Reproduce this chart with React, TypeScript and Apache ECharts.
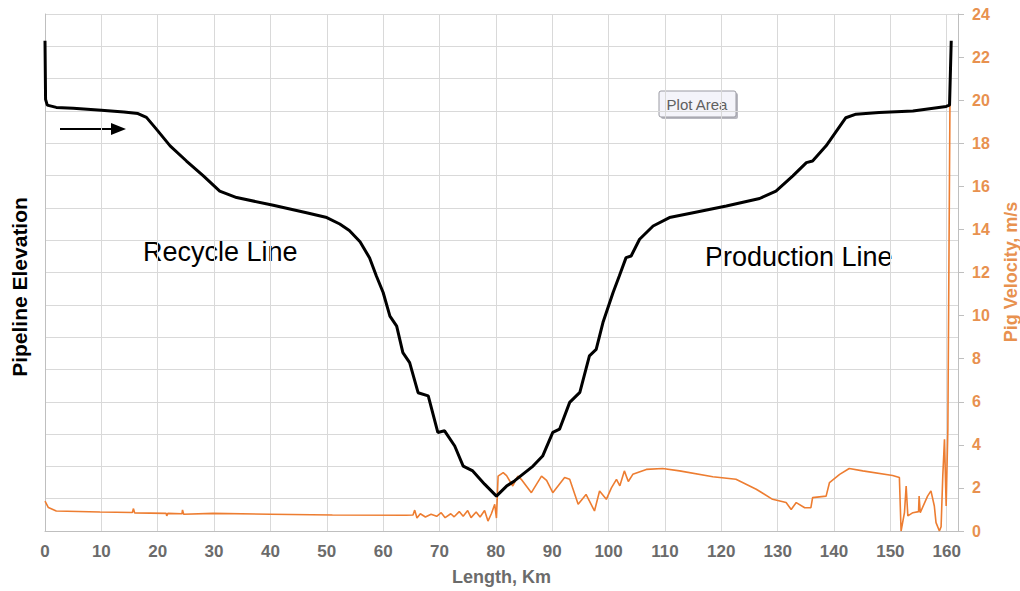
import React, { useEffect, useRef } from "react";
import * as echarts from "echarts";

// Pipeline elevation (black) — km and relative elevation units (16 grid divisions)
const elevKm = [0, 0.1, 0.4, 2, 5, 10, 14, 16.5, 18, 19.8, 22.2, 25.1, 28.1, 31, 34, 40.5, 46.4, 50, 52.3, 54, 55.9, 57.6, 58.8, 60, 61.2, 62.4, 63.5, 64.7, 66.2, 68, 69.7, 70.9, 72.7, 74.2, 75.9, 78, 80.1, 81.9, 83.3, 86.6, 88.3, 90.1, 91.3, 93.1, 94.9, 96.6, 97.8, 99, 100.8, 101.9, 103.1, 104, 105.5, 107.9, 110.8, 115, 120.9, 126.8, 129.7, 132.7, 135.1, 136.2, 138.6, 142.1, 143.9, 148, 154, 159.9, 160.5, 160.8];
const elevVal = [15.17, 13.36, 13.18, 13.11, 13.08, 13.02, 12.97, 12.92, 12.8, 12.43, 11.92, 11.45, 10.99, 10.52, 10.32, 10.08, 9.85, 9.7, 9.5, 9.3, 8.95, 8.45, 7.89, 7.38, 6.65, 6.34, 5.52, 5.21, 4.28, 4.18, 3.05, 3.1, 2.63, 2.01, 1.86, 1.45, 1.08, 1.39, 1.55, 2.01, 2.32, 3.05, 3.15, 3.98, 4.29, 5.42, 5.62, 6.45, 7.38, 7.89, 8.46, 8.51, 9.03, 9.44, 9.7, 9.85, 10.06, 10.29, 10.52, 10.99, 11.4, 11.45, 11.92, 12.79, 12.9, 12.95, 13.0, 13.14, 13.18, 15.17];

// Pig velocity (orange), m/s
const velKm = [0, 0.6, 2, 9.75, 15.5, 15.7, 15.9, 21.5, 21.6, 21.8, 24.3, 24.4, 24.6, 29.8, 39.9, 51, 64.1, 65.3, 65.6, 66, 66.6, 67.5, 68.5, 69.5, 70.3, 71, 72, 72.6, 73.5, 74.2, 75, 75.6, 76.5, 77.2, 78, 78.6, 79.2, 79.8, 80.1, 80.4, 81.3, 81.9, 83, 83.9, 84.5, 86.3, 88.1, 89, 90.1, 92.2, 93.1, 94.6, 96, 97.5, 98.4, 99.6, 100.5, 101.4, 102, 102.8, 103.5, 104.3, 106.7, 109.6, 112.6, 118.5, 122.6, 126.2, 129.1, 131.5, 132.4, 133.3, 134.8, 135.9, 136.2, 138.6, 139.2, 141, 142.7, 145.1, 150.4, 151.6, 151.9, 152.5, 152.8, 153.1, 154, 155, 155.1, 155.3, 156.6, 157.2, 157.8, 158.1, 158.7, 159, 159.3, 159.6, 159.9, 160.2, 160.6];
const velVal = [1.39, 1.09, 0.93, 0.88, 0.86, 1.04, 0.84, 0.82, 0.7, 0.82, 0.8, 0.98, 0.78, 0.82, 0.78, 0.74, 0.73, 0.74, 0.97, 0.6, 0.8, 0.65, 0.78, 0.68, 0.85, 0.62, 0.8, 0.66, 0.9, 0.68, 0.95, 0.62, 0.88, 0.65, 0.95, 0.46, 0.8, 1.24, 0.6, 2.55, 2.71, 2.57, 2.09, 2.55, 2.4, 1.78, 2.55, 2.35, 1.78, 2.48, 2.4, 1.24, 1.7, 0.93, 1.86, 1.47, 2.0, 2.4, 2.1, 2.79, 2.3, 2.63, 2.86, 2.9, 2.79, 2.52, 2.4, 1.94, 1.47, 1.32, 1.0, 1.32, 1.08, 1.08, 1.55, 1.62, 2.25, 2.63, 2.9, 2.79, 2.58, 2.48, 0, 0.85, 2.09, 0.7, 0.85, 0.9, 1.62, 0.85, 1.62, 1.86, 1.16, 0.39, 0, 0.2, 2.55, 4.26, 1.16, 4.72, 21];

const FONT = "'Liberation Sans', Arial, sans-serif";
const ORANGE = "#ED7D31";
const ORANGE_TXT = "#E8914F";
const GRID = "#d9d9d9";

export default function App() {
  const ref = useRef<HTMLDivElement>(null);
  useEffect(() => {
    if (!ref.current) return;
    const chart = echarts.init(ref.current, undefined, { renderer: "svg" });
    const elevData = elevKm.map((k, i) => [k, elevVal[i]]);
    const velData = velKm.map((k, i) => [k, velVal[i]]);
    chart.setOption({
      animation: false,
      backgroundColor: "#ffffff",
      grid: { left: 45, right: 62, top: 14, bottom: 59, containLabel: false },
      xAxis: {
        type: "value",
        min: 0,
        max: 162,
        interval: 10,
        name: "Length, Km",
        nameLocation: "middle",
        nameGap: 37,
        nameTextStyle: { color: "#6b6b6b", fontSize: 18, fontWeight: "bold", fontFamily: FONT },
        axisLine: { show: true, lineStyle: { color: "#bfbfbf" } },
        axisTick: { show: false },
        axisLabel: { color: "#6b6b6b", fontSize: 17, fontWeight: "bold", fontFamily: FONT, margin: 12, showMaxLabel: false },
        splitLine: { show: true, lineStyle: { color: GRID } },
      },
      yAxis: [
        {
          type: "value",
          min: 0,
          max: 16,
          interval: 1,
          position: "left",
          axisLine: { show: true, lineStyle: { color: "#bfbfbf" } },
          axisTick: { show: false },
          axisLabel: { show: false },
          splitLine: { show: true, lineStyle: { color: GRID } },
        },
        {
          type: "value",
          min: 0,
          max: 24,
          interval: 2,
          position: "right",
          axisLine: { show: true, lineStyle: { color: "#bfbfbf" } },
          axisTick: { show: true, inside: false, length: 6, lineStyle: { color: "#bfbfbf" } },
          axisLabel: { color: ORANGE_TXT, fontSize: 16, fontWeight: "bold", fontFamily: FONT, margin: 14 },
          splitLine: { show: false },
        },
      ],
      series: [
        {
          name: "Pig Velocity",
          type: "line",
          yAxisIndex: 1,
          data: velData,
          showSymbol: false,
          symbol: "none",
          lineStyle: { color: ORANGE, width: 1.6 },
          z: 2,
        },
        {
          name: "Pipeline Elevation",
          type: "line",
          yAxisIndex: 0,
          data: elevData,
          showSymbol: false,
          symbol: "none",
          lineStyle: { color: "#000000", width: 3 },
          z: 3,
        },
      ],
      graphic: [
        {
          type: "text",
          x: 19,
          y: 287,
          rotation: Math.PI / 2,
          style: { text: "Pipeline Elevation", fill: "#000", font: `bold 21px ${FONT}`, align: "center", verticalAlign: "middle" },
        },
        {
          type: "text",
          x: 1011,
          y: 272,
          rotation: Math.PI / 2,
          style: { text: "Pig Velocity, m/s", fill: ORANGE_TXT, font: `bold 18px ${FONT}`, align: "center", verticalAlign: "middle" },
        },
        {
          type: "text",
          x: 143,
          y: 252,
          style: { text: "Recycle Line", fill: "#000", font: `27px ${FONT}`, align: "left", verticalAlign: "middle" },
        },
        {
          type: "text",
          x: 705,
          y: 257,
          style: { text: "Production Line", fill: "#000", font: `27px ${FONT}`, align: "left", verticalAlign: "middle" },
        },
        {
          type: "line",
          shape: { x1: 60, y1: 129, x2: 114, y2: 129 },
          style: { stroke: "#000", lineWidth: 2 },
        },
        {
          type: "polygon",
          shape: { points: [[111, 123], [126, 129], [111, 135]] },
          style: { fill: "#000" },
        },
        {
          type: "rect",
          shape: { x: 661, y: 93, width: 77, height: 26, r: 2 },
          style: { fill: "#b8b8c0" },
        },
        {
          type: "rect",
          shape: { x: 659, y: 91, width: 77, height: 26, r: 2 },
          style: { fill: "#f4f4fa", stroke: "#9a9aa2", lineWidth: 1 },
        },
        {
          type: "text",
          x: 697,
          y: 104,
          style: { text: "Plot Area", fill: "#606060", font: `15px ${FONT}`, align: "center", verticalAlign: "middle" },
        },
      ],
    });
    return () => chart.dispose();
  }, []);
  return <div ref={ref} style={{ width: 1020, height: 591, position: "absolute", left: 0, top: 0 }} />;
}
